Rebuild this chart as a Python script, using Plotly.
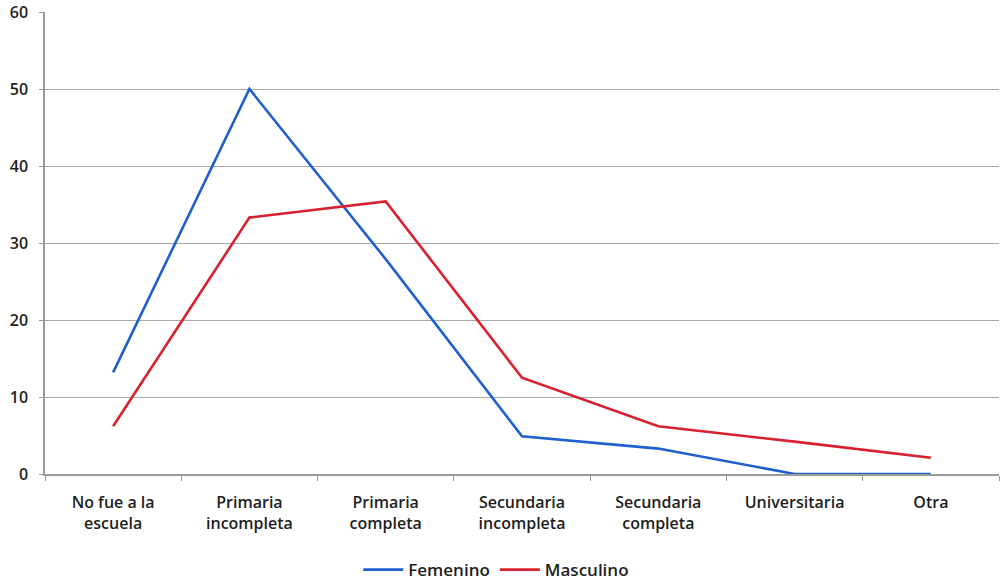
import plotly.graph_objects as go

categorias = [
    "No fue a la<br>escuela",
    "Primaria<br>incompleta",
    "Primaria<br>completa",
    "Secundaria<br>incompleta",
    "Secundaria<br>completa",
    "Universitaria",
    "Otra",
]
femenino = [13.2, 50.0, 27.9, 4.9, 3.3, 0.0, 0.0]
masculino = [6.2, 33.3, 35.4, 12.5, 6.2, 4.2, 2.1]
y_ticks = [0, 10, 20, 30, 40, 50, 60]

fig = go.Figure()
fig.add_trace(go.Scatter(
    x=categorias, y=femenino, mode="lines", name="Femenino",
    line=dict(color="#1f5fcf", width=2.6),
))
fig.add_trace(go.Scatter(
    x=categorias, y=masculino, mode="lines", name="Masculino",
    line=dict(color="#d9202e", width=2.6),
))

fig.update_layout(
    width=1000, height=585,
    margin=dict(l=45, r=1, t=12, b=111, autoexpand=False),
    paper_bgcolor="white", plot_bgcolor="white",
    font=dict(family="Open Sans, Lato, sans-serif", size=16, color="#1e1e1e", weight=600),
    showlegend=True,
    legend=dict(
        orientation="h", x=0.473, xanchor="center", y=-0.208, yanchor="middle",
        font=dict(size=17, color="#1e1e1e", weight=600), itemwidth=40,
    ),
)
fig.update_xaxes(
    type="category", range=[-0.5, 6.5], automargin=False,
    showline=True, linecolor="#9a9a9a", linewidth=1.5,
    ticks="outside", tickson="boundaries", ticklen=5, tickcolor="#9a9a9a",
    showgrid=False, ticklabelstandoff=13,
    tickfont=dict(size=16, color="#1e1e1e", weight=600),
)
fig.update_yaxes(
    range=[0, 60], tickvals=y_ticks, automargin=False,
    showline=True, linecolor="#9a9a9a", linewidth=1.5,
    ticks="outside", ticklen=4, tickcolor="#9a9a9a",
    showgrid=True, gridcolor="#a8a8a8", gridwidth=1.2,
    zeroline=False, ticklabelstandoff=8,
    tickfont=dict(size=16, color="#1e1e1e", weight=600),
)

fig.write_html("out.html")
